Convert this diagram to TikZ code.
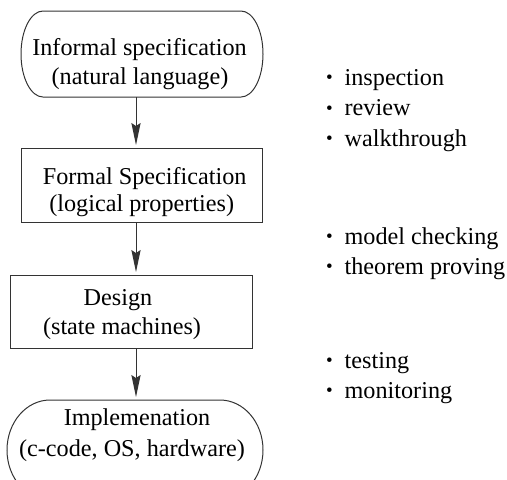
\documentclass[tikz,border=0pt]{standalone}
\usepackage{fontspec}
\setmainfont{Liberation Serif}
\usetikzlibrary{arrows.meta}
\newcommand{\smallbul}{\raisebox{0.6pt}{\fontsize{9.5pt}{9.5pt}\selectfont\textbullet}}
\begin{document}
\begin{tikzpicture}[x=0.5pt,y=-0.5pt,
  every node/.style={inner sep=0pt,outer sep=0pt,font=\fontsize{12.1pt}{14pt}\selectfont},
  frame/.style={draw=black!80,line width=0.5pt},
  shapebox/.style={rectangle,draw=none},
  txt/.style={anchor=base},
  item/.style={anchor=base west},
  arr/.style={draw=black!80,line width=0.5pt,-{Stealth[length=11pt,width=4.6pt,inset=1.5pt]}}]
\useasboundingbox (0,0) rectangle (507,479);

% shapes
\node[shapebox,minimum width=121pt,minimum height=43pt] (inf) at (142,54) {};
\node[shapebox,frame,minimum width=120.5pt,minimum height=37pt] (formal) at (141.5,185) {};
\node[shapebox,frame,minimum width=121pt,minimum height=36.5pt] (design) at (131,311.5) {};
\node[shapebox,minimum width=128pt,minimum height=50pt] (impl) at (135,450) {};

\draw[frame] ([xshift=11pt]inf.north west) -- ([xshift=-11pt]inf.north east)
  arc[start angle=90,end angle=-90,x radius=11pt,y radius=21.5pt]
  -- ([xshift=11pt]inf.south west)
  arc[start angle=270,end angle=90,x radius=11pt,y radius=21.5pt] -- cycle;
\draw[frame] ([xshift=21.5pt]impl.north west) -- ([xshift=-21.5pt]impl.north east)
  arc[start angle=90,end angle=-90,x radius=21.5pt,y radius=25pt]
  -- ([xshift=21.5pt]impl.south west)
  arc[start angle=270,end angle=90,x radius=21.5pt,y radius=25pt] -- cycle;

% texts
\node[txt] (inf1) at (139.5,55.7) {Informal specification};
\node[txt] (inf2) at (140,84) {(natural language)};
\node[txt] (for1) at (144.7,184) {Formal Specification};
\node[txt] (for2) at (141.7,211) {(logical properties)};
\node[txt] (des1) at (118,305) {Design};
\node[txt] (des2) at (122,334.3) {(state machines)};
\node[txt] (imp1) at (137,425) {Implemenation};
\node[txt] (imp2) at (132,456) {(c-code, OS, hardware)};

% arrows
\coordinate (ax) at (136,0);
\draw[arr,shorten >=1.5pt] (inf.south -| ax) -- (formal.north -| ax);
\draw[arr,shorten >=1.5pt] (formal.south -| ax) -- (design.north -| ax);
\draw[arr,shorten >=1.5pt] (design.south -| ax) -- (impl.north -| ax);

% bullet lists
\node[item] (b1) at (326,85) {\smallbul\hspace{6pt}inspection};
\node[item] (b2) at (326,115.5) {\smallbul\hspace{6pt}review};
\node[item] (b3) at (326,146) {\smallbul\hspace{6pt}walkthrough};
\node[item] (b4) at (326,244) {\smallbul\hspace{6pt}model checking};
\node[item] (b5) at (326,274) {\smallbul\hspace{6pt}theorem proving};
\node[item] (b6) at (326,368) {\smallbul\hspace{6pt}testing};
\node[item] (b7) at (326,398) {\smallbul\hspace{6pt}monitoring};
\end{tikzpicture}
\end{document}
